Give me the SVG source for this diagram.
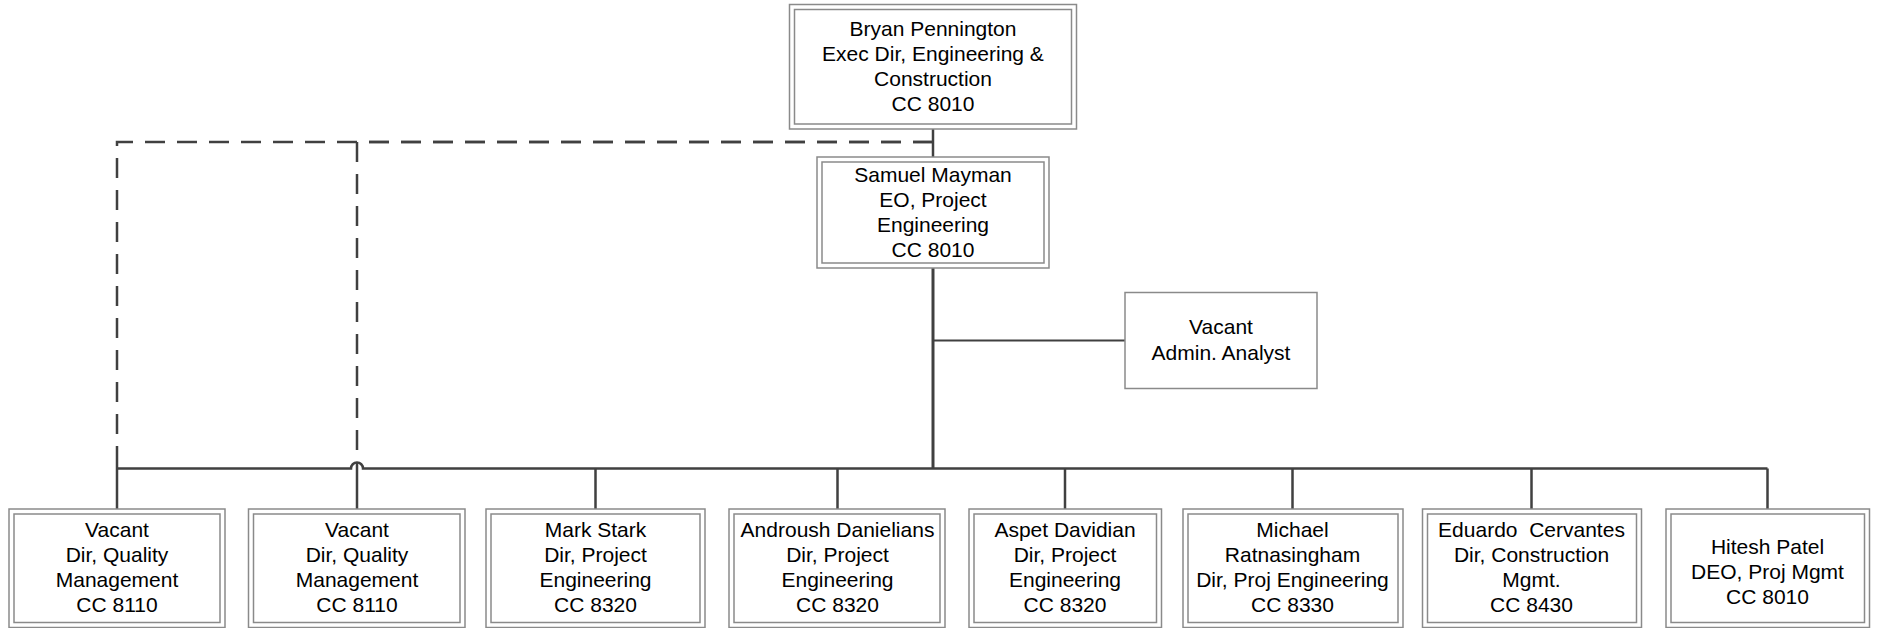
<svg xmlns="http://www.w3.org/2000/svg" width="1878" height="628" viewBox="0 0 1878 628">
<style>
.o{fill:#fff;stroke:#8a8a8a;stroke-width:1.5}
.i{fill:none;stroke:#8a8a8a;stroke-width:1.5}
.t{font-family:"Liberation Sans",Arial,sans-serif;font-size:21px;fill:#000;text-anchor:middle}
.c{fill:none;stroke:#404040;stroke-width:2.5}
.d{fill:none;stroke:#404040;stroke-width:2.5;stroke-dasharray:20 12}
</style>
<rect width="1878" height="628" fill="#fff"/>
<g id="connectors">
<path class="c" d="M933 129V157"/>
<path class="c" d="M933 268V468.5" style="stroke-width:3"/>
<path class="c" d="M933 340.5H1125" style="stroke-width:2"/>
<path class="d" d="M933 142H117V466"/>
<path class="d" d="M933 142H357V462"/>
<path class="c" d="M117 468.5H351A6 6 0 0 1 363 468.5H1767.5"/>
<path class="c" d="M117 466V509M357 462V509M595.5 468.5V509M837.5 468.5V509M1065 468.5V509M1292.5 468.5V509M1531.5 468.5V509M1767.5 468.5V509"/>
</g>
<g id="n-bryan">
<rect class="o" x="789.5" y="4.5" width="287" height="124.5"/>
<rect class="i" x="794.5" y="9.5" width="277" height="114.5"/>
<text class="t" x="933" y="36">Bryan Pennington</text>
<text class="t" x="933" y="61">Exec Dir, Engineering &amp;</text>
<text class="t" x="933" y="86">Construction</text>
<text class="t" x="933" y="111">CC 8010</text>
</g>
<g id="n-samuel">
<rect class="o" x="817" y="157" width="232" height="111"/>
<rect class="i" x="822" y="162" width="222" height="101"/>
<text class="t" x="933" y="182">Samuel Mayman</text>
<text class="t" x="933" y="207">EO, Project</text>
<text class="t" x="933" y="232">Engineering</text>
<text class="t" x="933" y="257">CC 8010</text>
</g>
<g id="n-admin">
<rect class="o" x="1125" y="292.5" width="192" height="96"/>
<text class="t" x="1221" y="334">Vacant</text>
<text class="t" x="1221" y="360">Admin. Analyst</text>
</g>
<g id="n-vacant1">
<rect class="o" x="9" y="509" width="216" height="118.5"/>
<rect class="i" x="14" y="514" width="206" height="108.5"/>
<text class="t" x="117" y="537">Vacant</text>
<text class="t" x="117" y="562">Dir, Quality</text>
<text class="t" x="117" y="587">Management</text>
<text class="t" x="117" y="612">CC 8110</text>
</g>
<g id="n-vacant2">
<rect class="o" x="248.5" y="509" width="216.5" height="118.5"/>
<rect class="i" x="253.5" y="514" width="206.5" height="108.5"/>
<text class="t" x="357" y="537">Vacant</text>
<text class="t" x="357" y="562">Dir, Quality</text>
<text class="t" x="357" y="587">Management</text>
<text class="t" x="357" y="612">CC 8110</text>
</g>
<g id="n-stark">
<rect class="o" x="486" y="509" width="219" height="118.5"/>
<rect class="i" x="491" y="514" width="209" height="108.5"/>
<text class="t" x="595.5" y="537">Mark Stark</text>
<text class="t" x="595.5" y="562">Dir, Project</text>
<text class="t" x="595.5" y="587">Engineering</text>
<text class="t" x="595.5" y="612">CC 8320</text>
</g>
<g id="n-androush">
<rect class="o" x="729" y="509" width="216" height="118.5"/>
<rect class="i" x="734" y="514" width="206" height="108.5"/>
<text class="t" x="837.5" y="537">Androush Danielians</text>
<text class="t" x="837.5" y="562">Dir, Project</text>
<text class="t" x="837.5" y="587">Engineering</text>
<text class="t" x="837.5" y="612">CC 8320</text>
</g>
<g id="n-aspet">
<rect class="o" x="969" y="509" width="192.5" height="118.5"/>
<rect class="i" x="974" y="514" width="182.5" height="108.5"/>
<text class="t" x="1065" y="537">Aspet Davidian</text>
<text class="t" x="1065" y="562">Dir, Project</text>
<text class="t" x="1065" y="587">Engineering</text>
<text class="t" x="1065" y="612">CC 8320</text>
</g>
<g id="n-michael">
<rect class="o" x="1183" y="509" width="220" height="118.5"/>
<rect class="i" x="1188" y="514" width="210" height="108.5"/>
<text class="t" x="1292.5" y="537">Michael</text>
<text class="t" x="1292.5" y="562">Ratnasingham</text>
<text class="t" x="1292.5" y="587">Dir, Proj Engineering</text>
<text class="t" x="1292.5" y="612">CC 8330</text>
</g>
<g id="n-eduardo">
<rect class="o" x="1422.5" y="509" width="219" height="118.5"/>
<rect class="i" x="1427.5" y="514" width="209" height="108.5"/>
<text class="t" x="1531.5" y="537" xml:space="preserve">Eduardo  Cervantes</text>
<text class="t" x="1531.5" y="562">Dir, Construction</text>
<text class="t" x="1531.5" y="587">Mgmt.</text>
<text class="t" x="1531.5" y="612">CC 8430</text>
</g>
<g id="n-hitesh">
<rect class="o" x="1666" y="509" width="203.5" height="118.5"/>
<rect class="i" x="1671" y="514" width="193.5" height="108.5"/>
<text class="t" x="1767.5" y="554">Hitesh Patel</text>
<text class="t" x="1767.5" y="579">DEO, Proj Mgmt</text>
<text class="t" x="1767.5" y="604">CC 8010</text>
</g>
</svg>
